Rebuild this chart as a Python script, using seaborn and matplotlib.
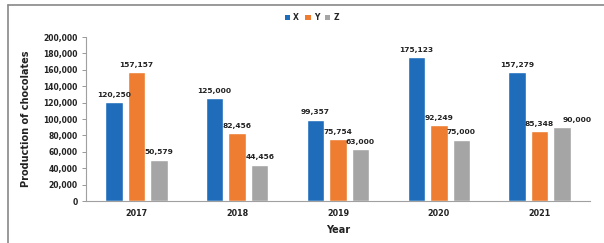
import matplotlib
matplotlib.use("Agg")
import matplotlib.pyplot as plt
import seaborn as sns
import pandas as pd
from matplotlib.lines import Line2D
from matplotlib.patches import Patch

years = ["2017", "2018", "2019", "2020", "2021"]
series_names = ["X", "Y", "Z"]
x_vals = [120250, 125000, 99357, 175123, 157279]
y_vals = [157157, 82456, 75754, 92249, 85348]
z_vals = [50579, 44456, 63000, 75000, 90000]
colors = ["#1F6DBA", "#EE7D31", "#A5A5A5"]

df = pd.DataFrame({
    "Year": years * 3,
    "Series": [s for s in series_names for _ in years],
    "Value": x_vals + y_vals + z_vals,
})

sns.set_theme(style="white")
plt.rcParams["font.family"] = ["DejaVu Sans"]

fig = plt.figure(figsize=(6.04, 2.43), dpi=100)
ax = fig.add_axes([86/604, 1-201/243, (590-86)/604, (201-37)/243])

sns.barplot(data=df, x="Year", y="Value", hue="Series", palette=colors,
            width=0.67, gap=0.22, ax=ax, legend=False, saturation=1)

label_kw = dict(fontsize=5.4, fontweight="bold", color="#222222")
for ci, cont in enumerate(ax.containers):
    anns = ax.bar_label(cont, labels=[f"{int(v):,}" for v in cont.datavalues],
                        padding=3, **label_kw)
    if ci == 2:
        # last label nudged right to avoid overlap, as in the reference
        a = anns[-1]
        a.xyann = (a.xyann[0] + 11, a.xyann[1])

ax.set_ylim(0, 200000)
ax.set_yticks(range(0, 200001, 20000))
ax.set_yticklabels([f"{v:,}" for v in range(0, 200001, 20000)],
                   fontsize=5.5, fontweight="bold", color="#222222")
ax.tick_params(axis="y", length=3, width=0.6, color="#888888", direction="out", left=True, pad=3)
ax.tick_params(axis="x", length=0, labelsize=5.8, pad=6)
for t in ax.get_xticklabels():
    t.set_fontweight("bold")
    t.set_color("#222222")

for s in ["top", "right"]:
    ax.spines[s].set_visible(False)
for s in ["left", "bottom"]:
    ax.spines[s].set_color("#A0A0A0")
    ax.spines[s].set_linewidth(0.8)

ax.set_xlabel("Year", fontsize=7, fontweight="bold", color="#222222", labelpad=5)
ax.set_ylabel("Production of chocolates", fontsize=7, fontweight="bold", color="#222222", labelpad=9)

handles = [Patch(facecolor=c, edgecolor="none") for c in colors]
fig.legend(handles, series_names, loc="center", bbox_to_anchor=(312/604, 1-18/243),
           ncol=3, frameon=False, handlelength=0.7, handleheight=0.7,
           handletextpad=0.4, columnspacing=0.8, prop={"weight": "bold", "size": 5.5})

# outer frame lines
fig.add_artist(Line2D([8/604, 1], [1-5/243, 1-5/243], transform=fig.transFigure, color="#888888", lw=1.2))
fig.add_artist(Line2D([8/604, 8/604], [0, 1-5/243], transform=fig.transFigure, color="#888888", lw=1.2))

fig.savefig("out.png", dpi=100)
